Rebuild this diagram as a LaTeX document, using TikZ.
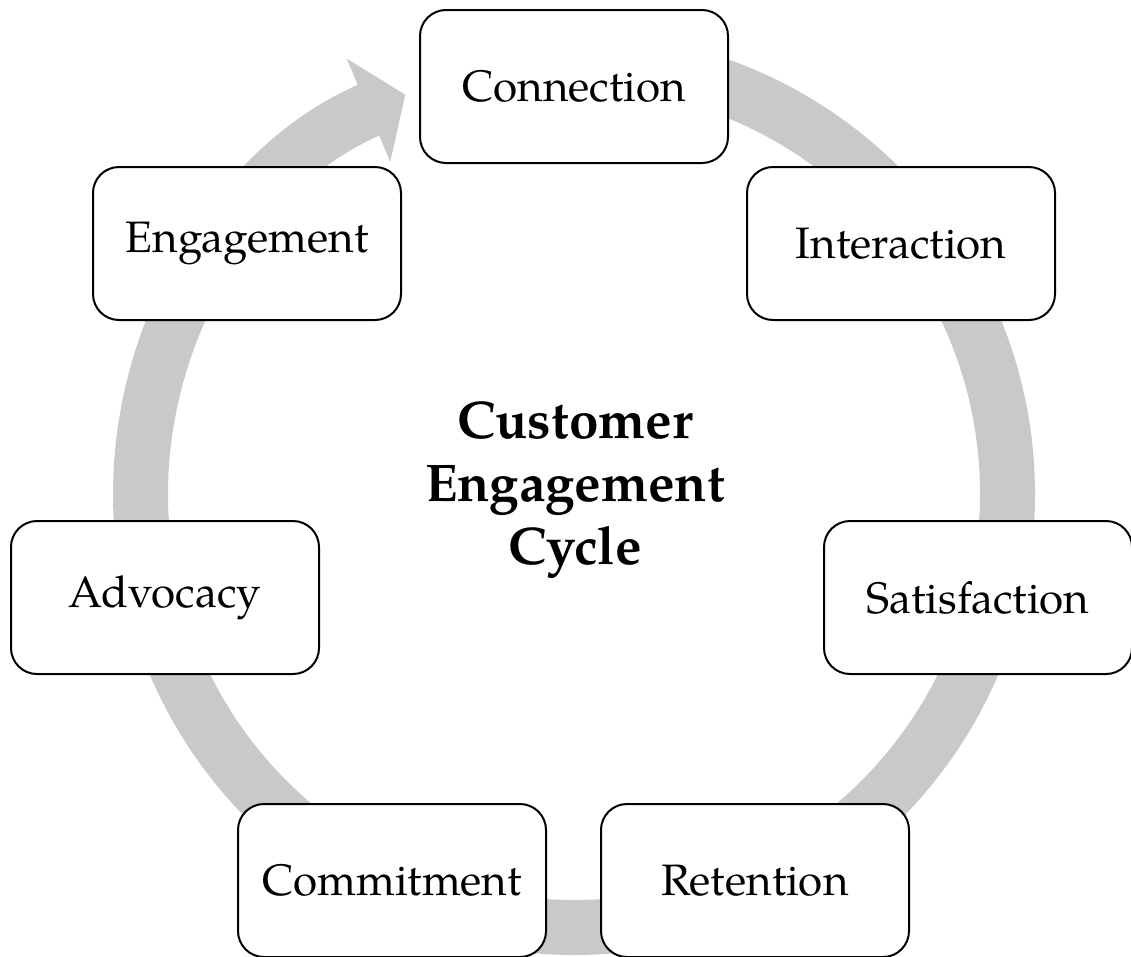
\documentclass[tikz,border=0pt]{standalone}
\usepackage{fontspec}
\setmainfont{texgyrepagella}[Extension=.otf, UprightFont=*-regular, BoldFont=*-bold]
\usetikzlibrary{arrows.meta}
\definecolor{ringgray}{gray}{0.79}
\tikzset{
	stage/.style={draw, line width=2pt, rounded corners=26pt, fill=white, minimum width=308pt, minimum height=153pt, font=\fontsize{44}{52}\selectfont},
	ring/.style={line width=55pt, draw=ringgray, -{Triangle[length=40pt, width=110pt]}}
}
\begin{document}
\begin{tikzpicture}[x=1pt, y=1pt]
	\useasboundingbox (0,0) rectangle (1131,-956);
	\coordinate (centre) at (574,-494);
	\draw[ring] (centre) ++(90:433.5) arc[start angle=90, end angle=-247.1, radius=433.5];
	\node[stage] (connection) at (574,-86.5) {Connection};
	\node[stage] (interaction) at (901,-243.5) {Interaction};
	\node[stage] (satisfaction) at (978,-597.5) {Satisfaction};
	\node[stage] (retention) at (755,-880.5) {Retention};
	\node[stage] (commitment) at (392,-880.5) {Commitment};
	\node[stage] (advocacy) at (165,-597.5) {Advocacy};
	\node[stage] (engagement) at (247,-243.5) {Engagement};
	\node[font=\bfseries\fontsize{53}{63}\selectfont, align=center, inner sep=0pt] (title) at (575,-490) {Customer\\Engagement\\Cycle};
\end{tikzpicture}
\end{document}
